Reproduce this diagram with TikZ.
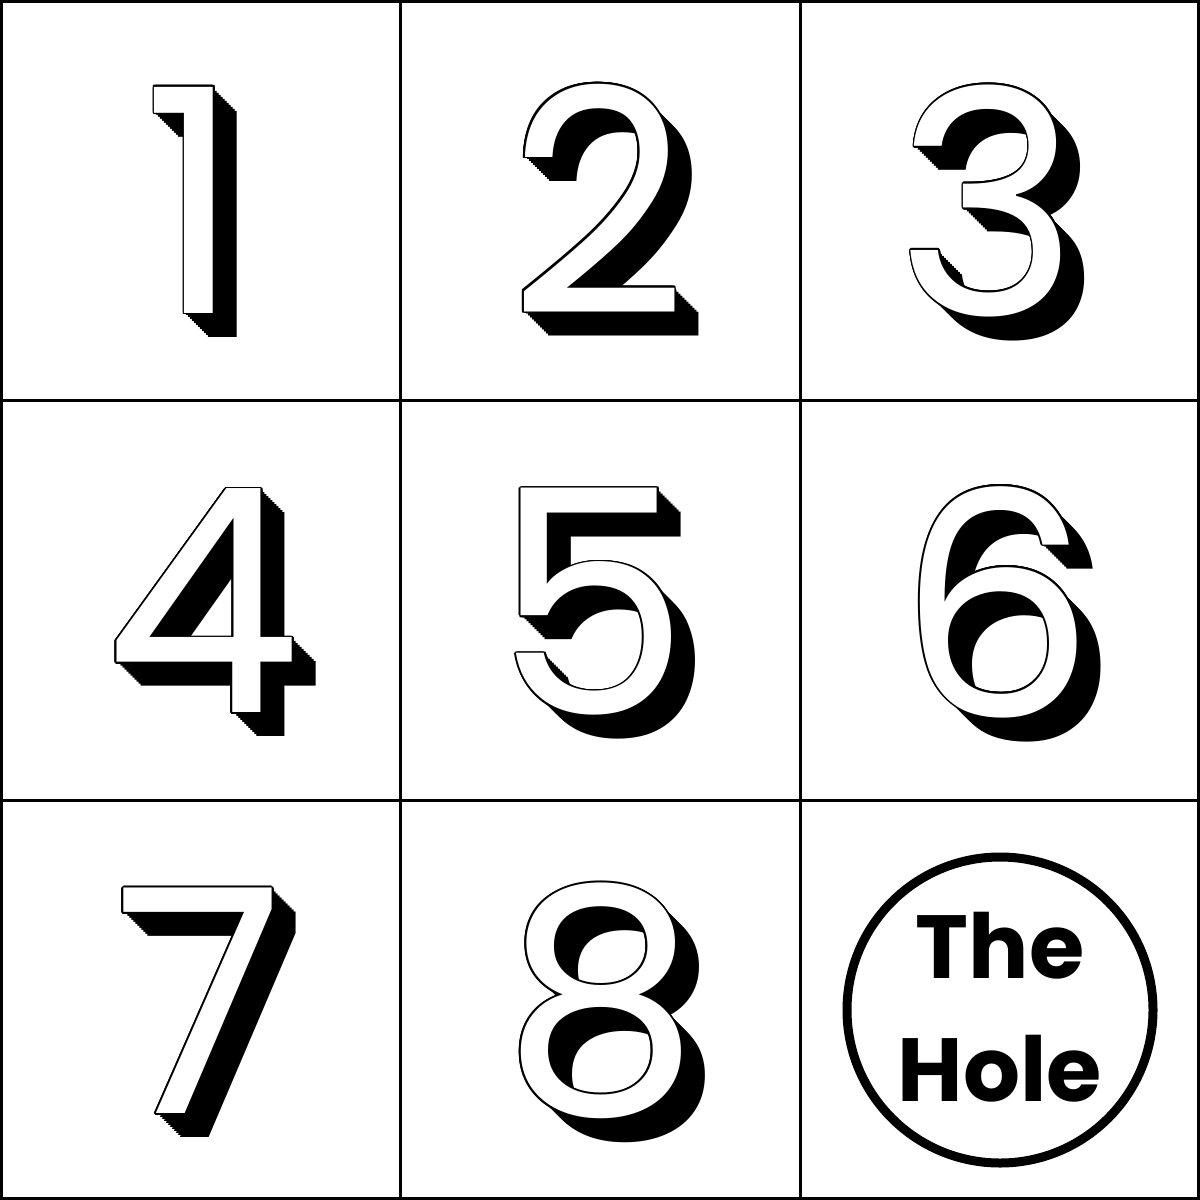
\documentclass[tikz,border=0pt]{standalone}
\usepackage{fontspec}
\newfontfamily\digfont{Poppins}
\newfontfamily\holefont{Poppins}[BoldFont=* Bold]
\tikzset{
  x=0.1mm,y=-0.1mm,
  dig/.style={inner sep=0pt,outer sep=0pt,anchor=center,font=\digfont\fontsize{89}{89}\selectfont},
  gridline/.style={line width=3*0.1mm,draw=black},
}
\newcommand{\shadowdigit}[4]{%
  \foreach \i in {2,4,...,24} {\node[dig,text=black] at (#2+\i,#3+\i) {#4};}
  \foreach \a in {0,22.5,...,337.5} {\node[dig,text=black] at ([shift={(\a:1.8)}]#2,#3) {#4};}
  \node[dig,text=white] (#1) at (#2,#3) {#4};
}
\begin{document}
\begin{tikzpicture}
\useasboundingbox (0,0) rectangle (1200,1200);
\fill[white] (0,0) rectangle (1200,1200);
% digits
\shadowdigit{d1}{193}{200}{1}
\shadowdigit{d2}{598}{199}{2}
\shadowdigit{d3}{988}{201}{3}
\shadowdigit{d4}{203}{601}{4}
\shadowdigit{d5}{592}{602}{5}
\shadowdigit{d6}{997}{602}{6}
\shadowdigit{d7}{199}{1001}{7}
\shadowdigit{d8}{601}{1001}{8}
% the hole
\node[circle,draw=black,line width=9*0.1mm,minimum size=306*0.1mm,inner sep=0pt] (hole) at (1000,1010) {};
\node[inner sep=0pt,align=center,font=\holefont\bfseries\fontsize{25.5}{35}\selectfont] (holetext) at (1000,1007) {The\\Hole};
% grid
\draw[gridline] (1.5,1.5) rectangle (1198.5,1198.5);
\draw[gridline] (400,0) -- (400,1200);
\draw[gridline] (800,0) -- (800,1200);
\draw[gridline] (0,400) -- (1200,400);
\draw[gridline] (0,800) -- (1200,800);
\end{tikzpicture}
\end{document}
